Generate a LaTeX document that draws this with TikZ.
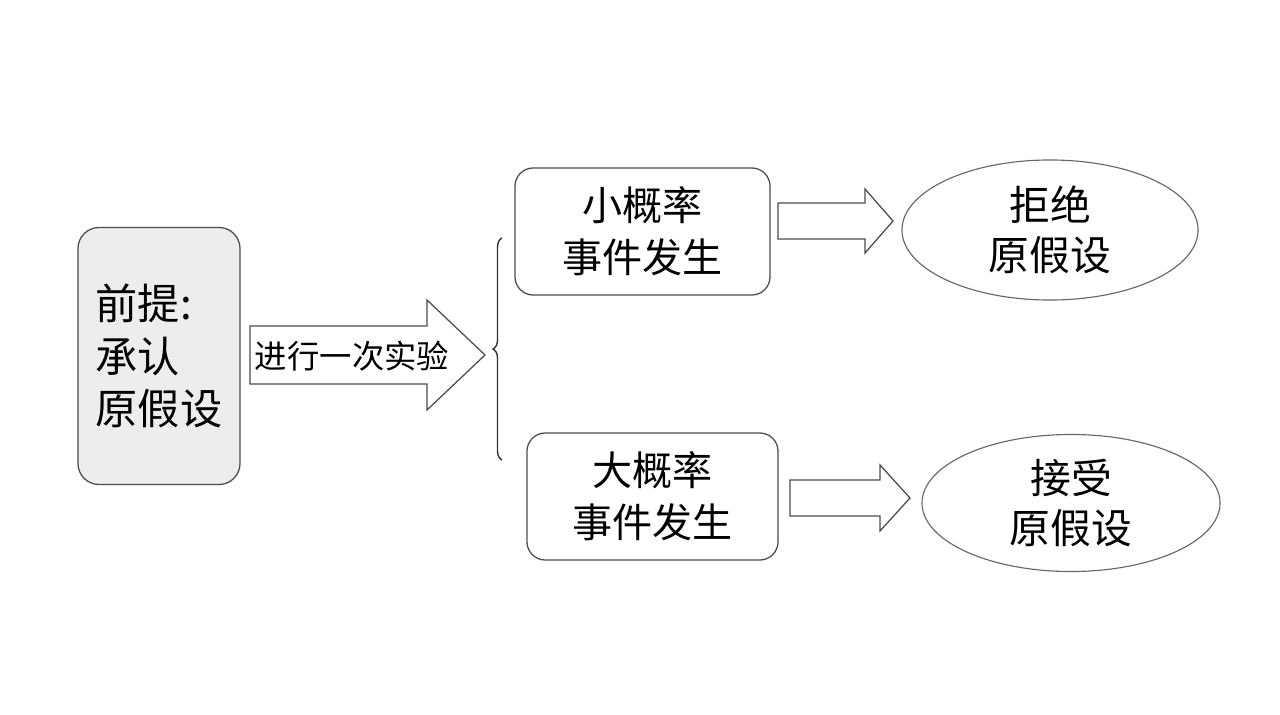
\documentclass[tikz,border=0pt]{standalone}
\usepackage{fontspec}
\setmainfont{Noto Sans CJK SC}
\usetikzlibrary{shapes.geometric,calc,decorations.pathreplacing}
\begin{document}
\begin{tikzpicture}[x=0.025cm,y=-0.025cm,
    outline/.style={draw=black!70,line width=0.9pt},
    eventbox/.style={outline,rounded corners=13pt,inner sep=0pt,
      align=center,font=\fontsize{28.5pt}{37pt}\selectfont},
    verdict/.style={ellipse,draw=black!60,line width=0.8pt,inner sep=0pt,
      align=center,font=\fontsize{29pt}{36pt}\selectfont},
    fatarrow/.style={outline,fill=white,line join=miter}]
        \useasboundingbox[fill=white] (0,0) rectangle (1280,715);

        % premise box
        \node[outline,fill=black!7,rounded corners=15pt,inner sep=0pt,
          minimum width=4.05cm,minimum height=6.425cm,align=left,
          font=\fontsize{30pt}{37.5pt}\selectfont]
          (premise) at (159,356) {前提:\\承认\\原假设};

        % the two outcomes
        \node[eventbox,minimum width=6.375cm,minimum height=3.175cm]
          (small) at (642.5,231.5) {小概率\\事件发生};
        \node[eventbox,minimum width=6.275cm,minimum height=3.175cm]
          (large) at (652.5,496.5) {大概率\\事件发生};

        % the two decisions
        \node[verdict,minimum width=7.4cm,minimum height=3.5cm]
          (reject) at (1050,230) {拒绝\\原假设};
        \node[verdict,minimum width=7.45cm,minimum height=3.425cm]
          (accept) at (1071,503) {接受\\原假设};

        % ends of the block arrows
        \coordinate (trial tail) at (250,355);
        \coordinate (trial tip) at (485,355);
        \coordinate (small tail) at (778,221);
        \coordinate (small tip) at (893,221);
        \coordinate (large tail) at (790,498);
        \coordinate (large tip) at (910,498);

        % block arrows: tail/tip/half shaft/half head/head length
        \foreach \tail/\tip/\hs/\hh/\hl in {%
            trial tail/trial tip/29/55/58,
            small tail/small tip/18/32/28,
            large tail/large tip/18/33/30} {
          \draw[fatarrow] ($(\tail)+(0,-\hs)$) -- ($(\tip)+(-\hl,-\hs)$)
            -- ($(\tip)+(-\hl,-\hh)$) -- (\tip) -- ($(\tip)+(-\hl,\hh)$)
            -- ($(\tip)+(-\hl,\hs)$) -- ($(\tail)+(0,\hs)$) -- cycle;
        }
        \node[font=\fontsize{23pt}{28pt}\selectfont,inner sep=0pt]
          (trial) at (352,356) {进行一次实验};

        % brace
        \coordinate (brace top) at (502,238);
        \coordinate (brace bottom) at (502,460);
        \draw[black!80,line width=1pt,decorate,decoration={brace,amplitude=6.4pt}]
          (brace bottom) -- (brace top);
    \end{tikzpicture}
\end{document}
